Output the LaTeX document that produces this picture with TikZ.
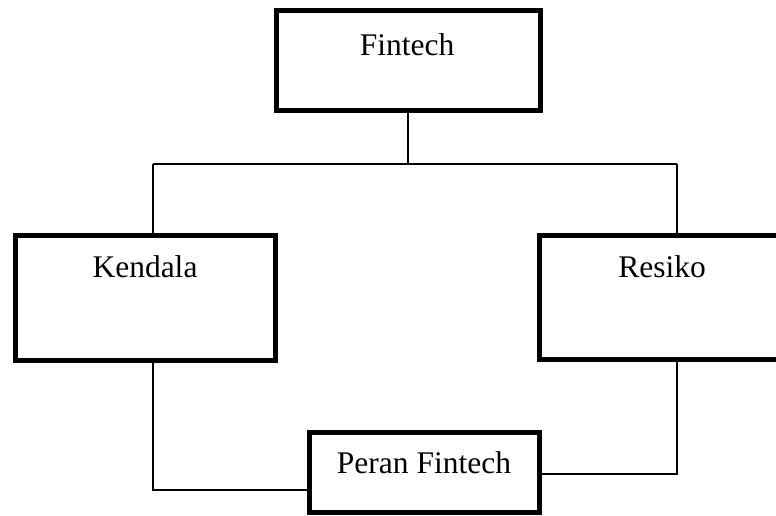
\documentclass[tikz,border=0pt]{standalone}
\usepackage{fontspec}
\setmainfont{Liberation Serif}
\usetikzlibrary{calc}

\begin{document}
\begin{tikzpicture}[x=0.5pt, y=-0.5pt,
    box/.style={draw, line width=2.5pt, inner sep=0pt},
    txt/.style={anchor=base, inner sep=0pt, font=\fontsize{15.75}{19}\selectfont},
    wire/.style={line width=0.9pt}]
    \useasboundingbox (0,0) rectangle (776,515);

    \node (fin) at (408.25,60) [box, minimum width=131.75pt, minimum height=50pt] {};
    \node (ken) at (145.25,297.75) [box, minimum width=130.25pt, minimum height=62.75pt] {};
    \node (res) at (662,297.5) [box, minimum width=122.5pt, minimum height=62pt] {};
    \node (per) at (424,472.5) [box, minimum width=115pt, minimum height=40pt] {};

    \node (fint) at (407,55) [txt] {Fintech};
    \node (kent) at (145,277) [txt] {Kendala};
    \node (rest) at (662,277) [txt] {Resiko};
    \node (pert) at (424,473) [txt] {Peran Fintech};

    \coordinate (split) at (408.25,164);
    \coordinate (lturn) at (153,164);
    \coordinate (rturn) at (677,164);
    \coordinate (lfoot) at (153,490);
    \coordinate (rfoot) at (677,474);

    \draw[wire] (fin.south) -- (split);
    \draw[wire] (lturn) -- (rturn);
    \draw[wire] (lturn) -- (lturn |- ken.north);
    \draw[wire] (rturn) -- (rturn |- res.north);
    \draw[wire] (lturn |- ken.south) -- (lfoot) -- (lfoot -| per.west);
    \draw[wire] (rturn |- res.south) -- (rfoot) -- (rfoot -| per.east);
  \end{tikzpicture}
\end{document}
